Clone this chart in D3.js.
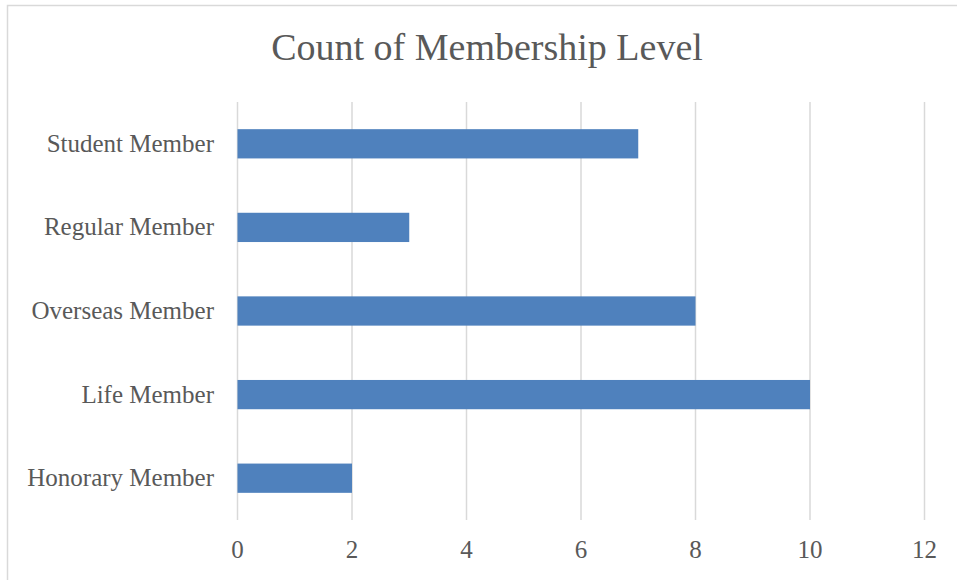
<!DOCTYPE html>
<html>
<head>
<meta charset="utf-8">
<script src="https://cdn.jsdelivr.net/npm/d3@7"></script>
<style>
  body { margin: 0; background: #fff; }
  text { font-family: "Liberation Serif", "DejaVu Serif", serif; fill: #595959; }
</style>
</head>
<body>
<svg id="chart" width="957" height="580"></svg>
<script>
// data
const categories = ['Student Member', 'Regular Member', 'Overseas Member', 'Life Member', 'Honorary Member'];
const counts = [7, 3, 8, 10, 2];
const xTicks = [0, 2, 4, 6, 8, 10, 12];

const svg = d3.select('#chart');
const margin = {top: 102, right: 33, bottom: 60, left: 237};
const width = 957;
const height = 580;

// chart area frame (only top + left edges show in the crop)
svg.append('path')
    .attr('d', `M7.5,580 V5.5 H957`)
    .attr('fill', 'none')
    .attr('stroke', '#d9d9d9')
    .attr('stroke-width', 1.5);

svg.append('text')
    .attr('x', 487)
    .attr('y', 60)
    .attr('text-anchor', 'middle')
    .style('font-size', '38px')
    .text('Count of Membership Level');

const x = d3.scaleLinear()
    .domain([0, 12])
    .range([margin.left, width - margin.right]);

const y = d3.scaleBand()
    .domain(categories)
    .range([margin.top, height - margin.bottom])
    .paddingInner(0.65)
    .paddingOuter(0.325);

// vertical gridlines
svg.append('g')
    .selectAll('line')
    .data(xTicks)
    .enter().append('line')
    .attr('x1', d => x(d) + 0.5)
    .attr('x2', d => x(d) + 0.5)
    .attr('y1', margin.top)
    .attr('y2', height - margin.bottom)
    .attr('stroke', '#d9d9d9')
    .attr('stroke-width', 1.5);

svg.append('g')
    .selectAll('rect')
    .data(categories)
    .enter().append('rect')
    .attr('x', x(0) + 0.5)
    .attr('y', d => y(d))
    .attr('width', (d, i) => x(counts[i]) - x(0))
    .attr('height', y.bandwidth())
    .attr('fill', '#4f81bd');

// axes, drawn without domain lines / tick marks
const xAxis = svg.append('g')
    .attr('transform', `translate(0,${height - margin.bottom})`)
    .call(d3.axisBottom(x).tickValues(xTicks).tickSize(0).tickPadding(20));
xAxis.select('.domain').remove();
xAxis.selectAll('text').style('font-size', '25px').attr('fill', '#595959');

const yAxis = svg.append('g')
    .attr('transform', `translate(${margin.left},0)`)
    .call(d3.axisLeft(y).tickSize(0).tickPadding(23));
yAxis.select('.domain').remove();
yAxis.selectAll('text').style('font-size', '25px').attr('fill', '#595959');
</script>
</body>
</html>
